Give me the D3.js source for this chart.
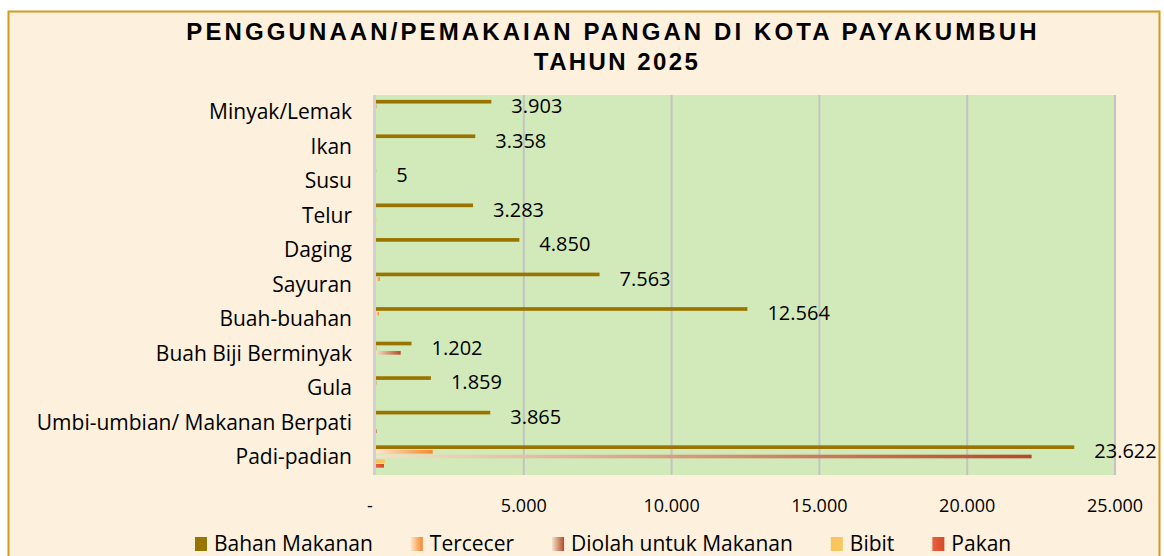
<!DOCTYPE html>
<html>
<head>
<meta charset="utf-8">
<script src="https://cdn.jsdelivr.net/npm/d3@7"></script>
<style>
  body { margin: 0; background: #fff; }
  svg { display: block; }
</style>
</head>
<body>
<svg id="chart" width="1164" height="556"></svg>
<script>
// data
var categories = ["Minyak/Lemak", "Ikan", "Susu", "Telur", "Daging", "Sayuran",
  "Buah-buahan", "Buah Biji Berminyak", "Gula", "Umbi-umbian/ Makanan Berpati", "Padi-padian"];
var seriesNames = ["Bahan Makanan", "Tercecer", "Diolah untuk Makanan", "Bibit", "Pakan"];
var bahanMakanan = [3903, 3358, 5, 3283, 4850, 7563, 12564, 1202, 1859, 3865, 23622];
var tercecer     = [20, 0, 0, 0, 0, 135, 100, 15, 20, 0, 1918];
var diolah       = [0, 0, 0, 0, 0, 0, 0, 835, 0, 0, 22180];
var bibit        = [0, 0, 0, 15, 0, 0, 0, 0, 0, 0, 300];
var pakan        = [0, 0, 0, 0, 0, 0, 0, 0, 0, 20, 270];
var xTicks = [0, 5000, 10000, 15000, 20000, 25000];

var seriesValues = [bahanMakanan, tercecer, diolah, bibit, pakan];
var colorsFrom = ["#9a7400", "#fde6cc", "#f1e2c8", "#f9c35a", "#e8603f"];
var colorsTo   = ["#9a7400", "#f7862a", "#b64a28", "#f7c864", "#d44a2a"];

var svg = d3.select("#chart");
var font = "'Open Sans', 'Noto Sans', sans-serif";

// chart frame
svg.append("rect")
  .attr("x", 8.5).attr("y", 11.5)
  .attr("width", 1151).attr("height", 560)
  .style("fill", "#fdf0dc")
  .style("stroke", "#d19b1c")
  .style("stroke-width", "2px");

// title
var title = svg.append("text")
  .attr("text-anchor", "middle")
  .style("font-family", "'Liberation Sans', Arial, sans-serif")
  .style("font-weight", "bold")
  .style("font-size", "24px")
  .style("fill", "#000");
title.append("tspan").attr("x", 613).attr("y", 40)
  .style("letter-spacing", "3.1px")
  .text("PENGGUNAAN/PEMAKAIAN PANGAN DI KOTA PAYAKUMBUH");
title.append("tspan").attr("x", 617).attr("y", 70)
  .style("letter-spacing", "2.4px")
  .text("TAHUN 2025");

var plotLeft = 376, plotRight = 1115, plotTop = 95, plotBottom = 475;

var x = d3.scaleLinear().domain([0, 25000]).range([plotLeft, plotRight]);
var y0 = d3.scaleBand().domain(categories).range([plotTop, plotBottom]);
var y1 = d3.scaleBand().domain(seriesNames).range([0, y0.bandwidth()])
  .paddingInner(0).paddingOuter(1.2).align(0.39);

// plot area
svg.append("rect")
  .attr("x", plotLeft).attr("y", plotTop)
  .attr("width", plotRight - plotLeft).attr("height", plotBottom - plotTop)
  .style("fill", "#d2eab9");

// gridlines
svg.append("g").selectAll("line")
  .data(xTicks.slice(1))
  .join("line")
  .attr("x1", function(d) { return x(d); })
  .attr("x2", function(d) { return x(d); })
  .attr("y1", plotTop).attr("y2", plotBottom)
  .style("stroke", "#c3c3c3")
  .style("stroke-width", "2px");

// gradients
var defs = svg.append("defs");
seriesNames.forEach(function(s, i) {
  var g = defs.append("linearGradient")
    .attr("id", "grad" + i)
    .attr("x1", "0%").attr("x2", "100%").attr("y1", "0%").attr("y2", "0%");
  g.append("stop").attr("offset", "0%").attr("stop-color", colorsFrom[i]);
  g.append("stop").attr("offset", "100%").attr("stop-color", colorsTo[i]);
});

// bars
var rows = [];
seriesValues.forEach(function(vals, i) {
  vals.forEach(function(v, j) {
    if (v > 0) rows.push({ s: seriesNames[i], i: i, c: categories[j], v: v });
  });
});

svg.append("g").selectAll("rect")
  .data(rows)
  .join("rect")
  .attr("x", x(0))
  .attr("y", function(d) { return y0(d.c) + y1(d.s) + 0.5; })
  .attr("width", function(d) { return x(d.v) - x(0); })
  .attr("height", y1.bandwidth() - 1)
  .style("fill", function(d) { return "url(#grad" + d.i + ")"; });

// zero axis line
svg.append("line")
  .attr("x1", plotLeft - 1.5).attr("x2", plotLeft - 1.5)
  .attr("y1", plotTop).attr("y2", plotBottom)
  .style("stroke", "#d0d0d0")
  .style("stroke-width", "3px");

// category labels
svg.append("g").selectAll("text")
  .data(categories)
  .join("text")
  .attr("x", 352)
  .attr("y", function(d) { return y0(d) + y0.bandwidth() / 2; })
  .attr("dy", "0.32em")
  .attr("text-anchor", "end")
  .style("font-family", font)
  .style("font-size", "21px")
  .style("fill", "#000")
  .text(function(d) { return d; });

// x axis tick labels
var fmt = d3.formatLocale({ decimal: ",", thousands: ".", grouping: [3], currency: ["", ""] }).format(",d");
svg.append("g").selectAll("text")
  .data(xTicks)
  .join("text")
  .attr("x", function(d) { return d === 0 ? x(d) - 6 : x(d); })
  .attr("y", 512)
  .attr("text-anchor", "middle")
  .style("font-family", font)
  .style("font-size", "18px")
  .style("fill", "#000")
  .text(function(d) { return d === 0 ? "-" : fmt(d); });

// data labels for Bahan Makanan
svg.append("g").selectAll("text")
  .data(bahanMakanan)
  .join("text")
  .attr("x", function(d) { return x(d) + 20; })
  .attr("y", function(d, j) { return y0(categories[j]) + 11; })
  .attr("dy", "0.35em")
  .style("font-family", font)
  .style("font-size", "20px")
  .style("fill", "#000")
  .text(function(d) { return fmt(d); });

// legend
var legend = svg.append("g");
var lx = 195;
seriesNames.forEach(function(s, i) {
  legend.append("rect")
    .attr("x", lx).attr("y", 537)
    .attr("width", 12).attr("height", 14)
    .style("fill", "url(#grad" + i + ")");
  var t = legend.append("text")
    .attr("x", lx + 19).attr("y", 551)
    .style("font-family", font)
    .style("font-size", "21px")
    .style("fill", "#000")
    .text(s);
  lx += 19 + t.node().getComputedTextLength() + 38;
});
</script>
</body>
</html>
